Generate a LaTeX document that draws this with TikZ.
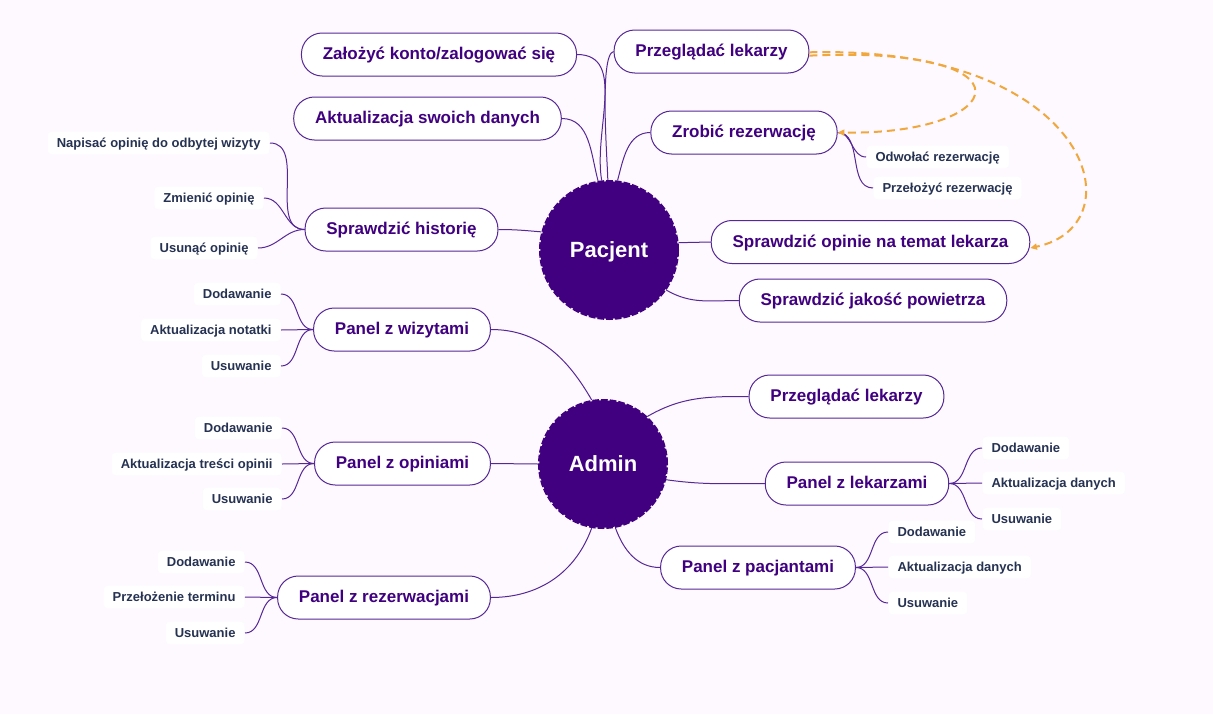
\documentclass[tikz,border=0pt]{standalone}
\usepackage{fontspec}
\setmainfont{Liberation Sans}
\usetikzlibrary{arrows.meta}

\definecolor{pagebg}{RGB}{253,249,255}
\definecolor{hubpurple}{RGB}{64,0,128}
\definecolor{linkpurple}{RGB}{86,40,150}
\definecolor{leafnavy}{RGB}{38,50,82}
\definecolor{jumporange}{RGB}{240,168,62}

\tikzset{every picture/.style={line width=0.75pt}}
\tikzset{
  hub/.style={circle, fill=hubpurple, draw=hubpurple, line width=2pt, dash pattern=on 5pt off 1.5pt, inner sep=0pt, text height=11.8pt, text depth=1pt, text=white, font=\fontsize{16.5}{20}\selectfont\bfseries},
  pill/.style={draw=linkpurple, fill=white, rounded corners=15.5pt, minimum height=32.25pt, inner xsep=16pt, text height=9.1pt, text depth=0.9pt, text=hubpurple, font=\fontsize{12.75}{15}\selectfont\bfseries},
  leaf/.style={fill=white, rounded corners=3pt, minimum height=17pt, inner xsep=6.75pt, text height=7pt, text depth=0.5pt, text=leafnavy, font=\fontsize{9.75}{12}\selectfont\bfseries},
  link/.style={draw=linkpurple},
  jump/.style={draw=jumporange, line width=1.5pt, dash pattern=on 6pt off 3.75pt, -{Triangle[length=5pt,width=4.5pt]}}
}

\begin{document}
\begin{tikzpicture}[x=0.75pt,y=0.75pt,yscale=-1,xscale=1]
%set diagram left start at 0, and has height of 714
\fill[pagebg] (0,0) rectangle (1213,714);
\useasboundingbox (0,0) rectangle (1213,714);

%Shape: Circle
\node[hub, minimum size=103pt] (pac) at (609,250) {Pacjent};
%Shape: Circle
\node[hub, minimum size=95.5pt] (adm) at (603,464) {Admin};

% Text Node
\node[pill] (zal) at (439,54.5) {Założyć konto/zalogować się};
% Text Node
\node[pill] (prz) at (711.5,51.5) {Przeglądać lekarzy};
% Text Node
\node[pill] (akt) at (427.5,118.5) {Aktualizacja swoich danych};
% Text Node
\node[pill] (zrob) at (744,132.5) {Zrobić rezerwację};
% Text Node
\node[pill] (hist) at (401.5,229.5) {Sprawdzić historię};
% Text Node
\node[pill] (opin) at (870.5,242) {Sprawdzić opinie na temat lekarza};
% Text Node
\node[pill] (pow) at (873,300.5) {Sprawdzić jakość powietrza};
% Text Node
\node[pill] (wiz) at (402,329.5) {Panel z wizytami};
% Text Node
\node[pill] (prza) at (846.5,396.5) {Przeglądać lekarzy};
% Text Node
\node[pill] (opa) at (402.5,463.5) {Panel z opiniami};
% Text Node
\node[pill] (lek) at (857,483.5) {Panel z lekarzami};
% Text Node
\node[pill] (pacj) at (758,567.5) {Panel z pacjantami};
% Text Node
\node[pill] (rez) at (384,597.5) {Panel z rezerwacjami};

% Text Node
\node[leaf, anchor=east] (hista) at (270,143) {Napisać opinię do odbytej wizyty};
\node[leaf, anchor=east] (histb) at (264,198) {Zmienić opinię};
\node[leaf, anchor=east] (histc) at (258,248) {Usunąć opinię};
% Text Node
\node[leaf, anchor=west] (zroba) at (866,157) {Odwołać rezerwację};
\node[leaf, anchor=west] (zrobb) at (873,188) {Przełożyć rezerwację};
% Text Node
\node[leaf, anchor=east] (wiza) at (281,294) {Dodawanie};
\node[leaf, anchor=east] (wizb) at (281,330) {Aktualizacja notatki};
\node[leaf, anchor=east] (wizc) at (281,366) {Usuwanie};
% Text Node
\node[leaf, anchor=east] (opaa) at (282,428) {Dodawanie};
\node[leaf, anchor=east] (opab) at (282,464) {Aktualizacja treści opinii};
\node[leaf, anchor=east] (opac) at (282,499) {Usuwanie};
% Text Node
\node[leaf, anchor=east] (reza) at (245,562) {Dodawanie};
\node[leaf, anchor=east] (rezb) at (245,597) {Przełożenie terminu};
\node[leaf, anchor=east] (rezc) at (245,633) {Usuwanie};
% Text Node
\node[leaf, anchor=west] (leka) at (982,448) {Dodawanie};
\node[leaf, anchor=west] (lekb) at (982,483) {Aktualizacja danych};
\node[leaf, anchor=west] (lekc) at (982,519) {Usuwanie};
% Text Node
\node[leaf, anchor=west] (pacja) at (888,532) {Dodawanie};
\node[leaf, anchor=west] (pacjb) at (888,567) {Aktualizacja danych};
\node[leaf, anchor=west] (pacjc) at (888,603) {Usuwanie};

%Curve Lines (angles flipped by yscale=-1)
\draw[link] (zal.east) to[out=0,in=-100] (pac.96);
\draw[link] (akt.east) to[out=0,in=-105] (pac.99);
\draw[link] (prz.west) to[out=170,in=-90,looseness=0.3] (pac.91);
\draw[link] (zrob.west) to[out=180,in=-75] (pac.83);
\draw[link] (hist.east) to[out=0,in=-175] (pac.165);
\draw[link] (opin.west) -- (pac.6);
\draw[link] (pow.west) to[out=180,in=30] (pac.-35);

%Curve Lines
\draw[link] (wiz.east) to[out=0,in=-120] (adm.100);
\draw[link] (prza.west) to[out=180,in=-30] (adm.47);
\draw[link] (opa.east) -- (adm.west);
\draw[link] (lek.west) to[out=180,in=8] (adm.-14);
\draw[link] (pacj.west) to[out=180,in=70] (adm.-79);
\draw[link] (rez.east) to[out=0,in=110] (adm.-100);

%Curve Lines
\draw[link] (hist.west) to[out=180,in=0] (hista.east);
\draw[link] (hist.west) to[out=180,in=0] (histb.east);
\draw[link] (hist.west) to[out=180,in=0] (histc.east);
\draw[link] (zrob.east) to[out=0,in=180] (zroba.west);
\draw[link] (zrob.east) to[out=0,in=180] (zrobb.west);
\draw[link] (wiz.west) to[out=180,in=0] (wiza.east);
\draw[link] (wiz.west) -- (wizb.east);
\draw[link] (wiz.west) to[out=180,in=0] (wizc.east);
\draw[link] (opa.west) to[out=180,in=0] (opaa.east);
\draw[link] (opa.west) -- (opab.east);
\draw[link] (opa.west) to[out=180,in=0] (opac.east);
\draw[link] (rez.west) to[out=180,in=0] (reza.east);
\draw[link] (rez.west) -- (rezb.east);
\draw[link] (rez.west) to[out=180,in=0] (rezc.east);
\draw[link] (lek.east) to[out=0,in=180] (leka.west);
\draw[link] (lek.east) -- (lekb.west);
\draw[link] (lek.east) to[out=0,in=180] (lekc.west);
\draw[link] (pacj.east) to[out=0,in=180] (pacja.west);
\draw[link] (pacj.east) -- (pacjb.west);
\draw[link] (pacj.east) to[out=0,in=180] (pacjc.west);

%Dashed Arrows
\draw[jump] ([yshift=3.1pt]prz.east) .. controls (1040,45) and (1010,135) .. (zrob.east);
\draw[jump] ([yshift=0.6pt]prz.east) .. controls (1090,45) and (1140,225) .. ([yshift=4.5pt]opin.east);

\end{tikzpicture}
\end{document}
